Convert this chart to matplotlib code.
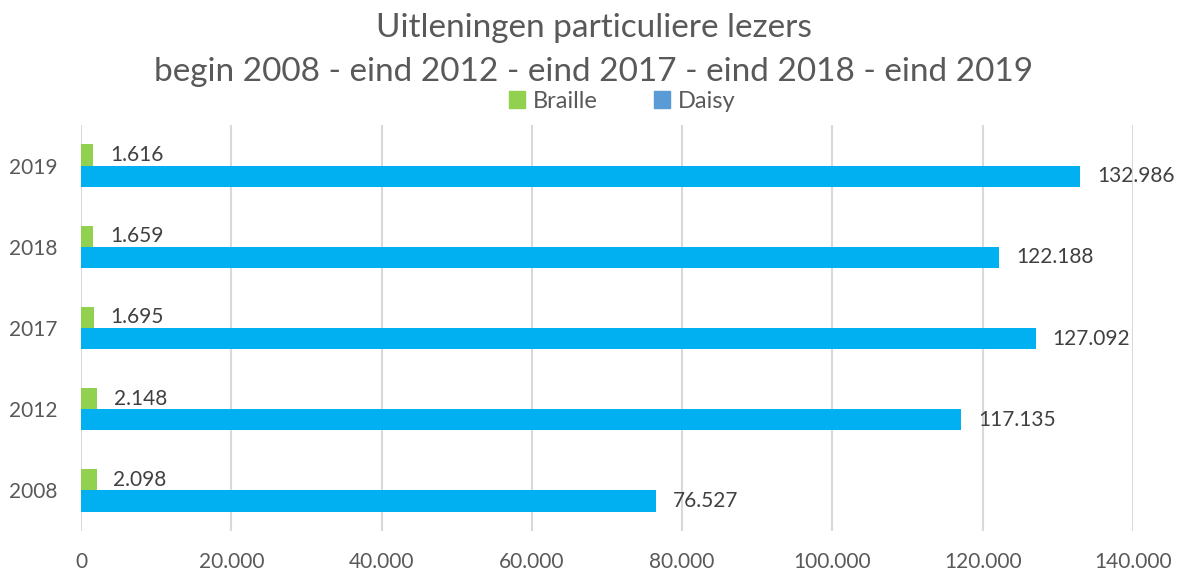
import numpy as np
import matplotlib.pyplot as plt
from matplotlib.patches import Patch

years = ["2008", "2012", "2017", "2018", "2019"]
braille = [2098, 2148, 1695, 1659, 1616]
daisy = [76527, 117135, 127092, 122188, 132986]
xticks = [0, 20000, 40000, 60000, 80000, 100000, 120000, 140000]

green = "#92D050"
blue = "#00B0F0"
legend_blue = "#5B9BD5"
grey = "#595959"


def fmt(v):
    return f"{v:,}".replace(",", ".")


plt.rcParams['font.family'] = ['Lato', 'DejaVu Sans']

fig = plt.figure(figsize=(11.88, 5.76), dpi=100)
ax = fig.add_axes([81 / 1188, 1 - 531 / 576, (1133 - 81) / 1188, (531 - 125) / 576])

pos = np.arange(len(years))
h = 0.26
b1 = ax.barh(pos + h / 2, braille, h, color=green)
b2 = ax.barh(pos - h / 2, daisy, h, color=blue)

ax.bar_label(b1, labels=[fmt(v) for v in braille], padding=12, fontsize=15, color="#404040")
ax.bar_label(b2, labels=[fmt(v) for v in daisy], padding=12, fontsize=15, color="#404040")

ax.set_xlim(0, 140000)
ax.set_ylim(-0.5, 4.5)
ax.set_xticks(xticks)
ax.set_xticklabels([fmt(v) for v in xticks])
ax.set_yticks(pos)
ax.set_yticklabels(years)
ax.tick_params(axis="x", length=0, pad=15, labelsize=15, labelcolor=grey)
ax.tick_params(axis="y", length=0, pad=17, labelsize=15, labelcolor=grey)

ax.grid(axis="x", color="#D9D9D9", linewidth=1.5)
ax.set_axisbelow(True)
for s in ax.spines.values():
    s.set_visible(False)

fig.text(0.5, 1 - 28 / 576, "Uitleningen particuliere lezers", ha="center", va="center",
         fontsize=24, color=grey)
fig.text(0.5, 1 - 72 / 576, "begin 2008 - eind 2012 - eind 2017 - eind 2018 - eind 2019",
         ha="center", va="center", fontsize=24, color=grey)

handles = [Patch(color=green, label="Braille"), Patch(color=legend_blue, label="Daisy")]
fig.legend(handles=handles, loc="center", bbox_to_anchor=(622 / 1188, 1 - 101 / 576), ncol=2,
           frameon=False, fontsize=17, labelcolor=grey, handlelength=0.7, handleheight=0.7,
           handletextpad=0.3, columnspacing=2.4)

fig.savefig("out.png", dpi=100)
